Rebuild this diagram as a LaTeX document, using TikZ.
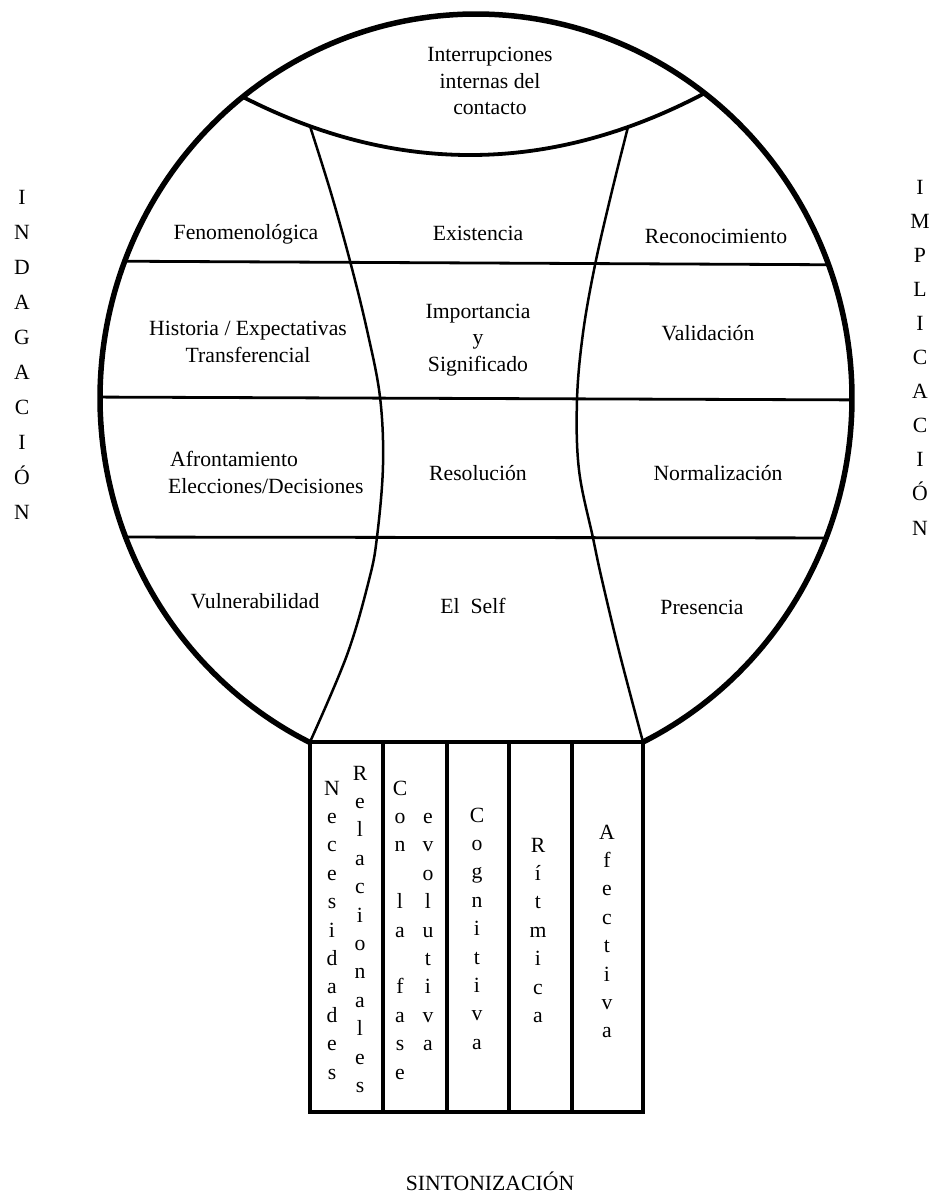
\documentclass[tikz,border=0pt]{standalone}
\usepackage{fontspec}
\setmainfont{Liberation Serif}
\newcommand\vertword[5]{% name, x, first baseline, step, letters
  \foreach \ch [count=\k from 0] in {#5} {\node[vl] (#1\k) at (#2,{#3+#4*\k}) {\ch};}}
\begin{document}
\begin{tikzpicture}[x=1pt,y=-1pt,
  lbl/.style={anchor=base, inner sep=0pt, font=\fontsize{21.7}{26.7}\selectfont},
  lbll/.style={anchor=base west, inner sep=0pt, font=\fontsize{21.7}{26.7}\selectfont},
  vl/.style={anchor=base, inner sep=0pt, font=\fontsize{21.7}{26.7}\selectfont},
  outer/.style={line width=5.5pt, line join=round, line cap=round},
  band/.style={line width=3.8pt, line cap=round},
  inner/.style={line width=2.5pt},
  hline/.style={line width=2.8pt},
  boxline/.style={line width=4.2pt, line join=miter}]
\useasboundingbox (0,0) rectangle (931,1196);
\fill[white] (0,0) rectangle (931,1196);

% horizontal dividers clipped by the ellipse
\begin{scope}
  \clip (476,398) ellipse [x radius=376pt, y radius=384pt];
  \draw[hline] (80,261) -- (880,265);
  \draw[hline] (80,397) -- (880,400);
  \draw[hline] (80,537) -- (880,538);
\end{scope}

% top band curve
\coordinate (tl) at (243,97);
\coordinate (tr) at (705,93);
\draw[band] (tl) .. controls (397,175.7) and (551,174.3) .. (tr);

% inner dividing curves
\coordinate (bl) at (310,742);
\coordinate (br) at (643,742);
\draw[inner] plot[smooth, tension=0.6] coordinates {(310,126.2) (331,193) (350,261) (367,330) (380,397) (383,465) (377,537) (369,580) (347,655) (310,742)};
\draw[inner] plot[smooth, tension=0.6] coordinates {(628,126.9) (611,195) (595,265) (583,333) (577,400) (579,470) (593,538) (602,580) (620,655) (643,742)};

% outer ellipse
\draw[outer] plot[domain=-63.6:243.76, samples=240, variable=\t] ({476+376*cos(\t)},{398-384*sin(\t)});

% columns box
\draw[boxline] (bl) rectangle (643,1112);
\foreach \xx [count=\n] in {383,447,509,572} \draw[boxline] (\xx,742) -- (\xx,1112);

% top band text
\node[lbl] (int1) at (490,61.7) {Interrupciones};
\node[lbl] (int2) at (490,88.3) {internas del};
\node[lbl] (int3) at (490,115) {contacto};

% row 1
\node[lbl] (fen) at (246,239) {Fenomenológica};
\node[lbl] (exi) at (478,240) {Existencia};
\node[lbl] (rec) at (716,243) {Reconocimiento};
% row 2
\node[lbl] (his1) at (248,335) {Historia / Expectativas};
\node[lbl] (his2) at (248,362) {Transferencial};
\node[lbl] (imp1) at (478,318) {Importancia};
\node[lbl] (imp2) at (478,344.5) {y};
\node[lbl] (imp3) at (478,371) {Significado};
\node[lbl] (val) at (708,340) {Validación};
% row 3
\node[lbll] (afr1) at (170,466.7) {Afrontamiento};
\node[lbll] (afr2) at (168,493.3) {Elecciones/Decisiones};
\node[lbl] (res) at (478,480) {Resolución};
\node[lbl] (nor) at (718,480) {Normalización};
% row 4
\node[lbl] (vul) at (255,608) {Vulnerabilidad};
\node[lbl] (sel) at (473,613) {El~ Self};
\node[lbl] (pre) at (702,614) {Presencia};

% column words
\vertword{nec}{332}{795}{28.4}{N,e,c,e,s,i,d,a,d,e,s}
\vertword{rel}{360}{780}{28.4}{R,e,l,a,c,i,o,n,a,l,e,s}
\vertword{con}{400}{795}{28.4}{C,o,n,{},l,a,{},f,a,s,e}
\vertword{evo}{428}{823.4}{28.4}{e,v,o,l,u,t,i,v,a}
\vertword{cog}{477}{822}{28.4}{C,o,g,n,i,t,i,v,a}
\vertword{rit}{538}{852}{28.4}{R,í,t,m,i,c,a}
\vertword{afe}{607}{839}{28.4}{A,f,e,c,t,i,v,a}

% side words
\vertword{ind}{22}{204}{35.1}{I,N,D,A,G,A,C,I,Ó,N}
\vertword{imp}{920}{194}{34.1}{I,M,P,L,I,C,A,C,I,Ó,N}

% bottom word
\node[lbl] (sin) at (490,1190) {SINTONIZACIÓN};
\end{tikzpicture}
\end{document}
